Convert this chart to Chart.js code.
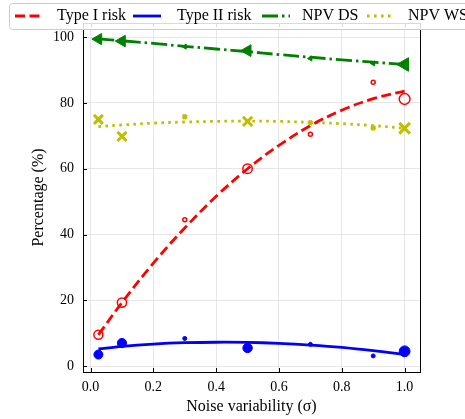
<!DOCTYPE html>
<html><head><meta charset="utf-8">
<script src="https://cdn.jsdelivr.net/npm/chart.js@4/dist/chart.umd.min.js"></script>
<style>html,body{margin:0;padding:0;background:#fff}#wrap{width:465px;height:419px;position:relative}</style>
</head><body><div id="wrap"><canvas id="c"></canvas></div>
<script>
// ---- data ----
const sigma = [0.025, 0.1, 0.3, 0.5, 0.7, 0.9, 1.0];
const typeI = [9.5, 19.3, 44.5, 60.0, 70.5, 86.3, 81.2];
const typeII = [3.5, 7.0, 8.4, 5.5, 6.6, 3.1, 4.5];
const npvDS = [99.4, 98.8, 97.1, 95.9, 93.5, 92.0, 91.7];
const npvWS = [75.0, 69.8, 75.8, 74.4, 74.0, 72.4, 72.3];
const fitX = [0.025, 0.1, 0.2, 0.3, 0.4, 0.5, 0.6, 0.7, 0.8, 0.9, 1.0];
const fitTypeI = [9.5, 19.3, 31.3, 42.0, 51.6, 60.0, 67.1, 73.1, 77.8, 81.3, 83.6];
const fitTypeII = [5.2, 6.0, 6.7, 7.1, 7.25, 7.2, 6.9, 6.4, 5.7, 4.7, 3.5];
const fitDS = [99.5, 98.9, 98.1, 97.2, 96.4, 95.6, 94.7, 93.9, 93.1, 92.4, 91.7];
const fitWS = [72.8, 73.3, 73.85, 74.2, 74.4, 74.5, 74.4, 74.1, 73.7, 73.1, 72.3];
const xTicks = [0, 0.2, 0.4, 0.6, 0.8, 1.0];
const yTicks = [0, 20, 40, 60, 80, 100];
const seriesNames = ['Type I risk', 'Type II risk', 'NPV DS', 'NPV WS'];

// ---- style ----
const RED = '#ff0000', BLUE = '#0000ff', GREEN = '#008000', OLIVE = '#bfbf00';
const markerR = [4.5, 4.6, 2, 4.7, 2, 2, 5.4];
const FONT = "'Liberation Serif', 'DejaVu Serif', serif";
const LW = 2.8;
const dashes = [[10, 4.5], [], [16, 4, 2.5, 4], [2.6, 4.4]];
const colors = [RED, BLUE, GREEN, OLIVE];

const pts = (xs, ys) => xs.map((x, i) => ({x, y: ys[i]}));
function lineDS(label, ys, color, dash) {
  return {type: 'line', label, data: pts(fitX, ys), borderColor: color, borderWidth: LW,
    borderDash: dash, pointRadius: 0, tension: 0.35, fill: false, clip: false, order: 2};
}
function scatDS(label, ys, opts) {
  return Object.assign({type: 'scatter', label, data: pts(sigma, ys), clip: false, order: 1}, opts);
}

const datasets = [
  lineDS(seriesNames[0], fitTypeI, RED, dashes[0]),
  lineDS(seriesNames[1], fitTypeII, BLUE, dashes[1]),
  lineDS(seriesNames[2], fitDS, GREEN, dashes[2]),
  lineDS(seriesNames[3], fitWS, OLIVE, dashes[3]),
  scatDS('typeI pts', typeI, {pointStyle: 'circle', pointRadius: markerR, pointBackgroundColor: 'rgba(255,255,255,0)', pointBorderColor: RED, pointBorderWidth: 1.5}),
  scatDS('typeII pts', typeII, {pointStyle: 'circle', pointRadius: markerR, pointBackgroundColor: BLUE, pointBorderColor: BLUE, pointBorderWidth: 1}),
  scatDS('DS pts', npvDS, {pointStyle: 'triangle', pointRotation: -90, pointRadius: markerR.map(r => r * 1.45), pointBackgroundColor: GREEN, pointBorderColor: GREEN, pointBorderWidth: 1}),
  scatDS('WS pts', npvWS, {pointStyle: 'crossRot', pointRadius: markerR.map(r => r * 1.4), pointBackgroundColor: OLIVE, pointBorderColor: OLIVE, pointBorderWidth: 3})
];

const framePlugin = {
  id: 'frame',
  afterDatasetsDraw(chart) {
    const {ctx, chartArea: a, scales} = chart;
    ctx.save();
    ctx.strokeStyle = '#000';
    ctx.lineWidth = 1;
    ctx.setLineDash([]);
    ctx.strokeRect(Math.round(a.left) + 0.5, Math.round(a.top) + 0.5, Math.round(a.right - a.left), Math.round(a.bottom - a.top));
    ctx.beginPath();
    xTicks.forEach(v => {
      const x = Math.round(scales.x.getPixelForValue(v)) + 0.5;
      ctx.moveTo(x, a.bottom); ctx.lineTo(x, a.bottom - 4);
      ctx.moveTo(x, a.top); ctx.lineTo(x, a.top + 4);
    });
    yTicks.forEach(v => {
      const y = Math.round(scales.y.getPixelForValue(v)) + 0.5;
      ctx.moveTo(a.left, y); ctx.lineTo(a.left + 4, y);
    });
    ctx.stroke();
    ctx.restore();
  }
};

const legendPlugin = {
  id: 'mplLegend',
  afterDraw(chart) {
    const ctx = chart.ctx;
    ctx.save();
    const bx = 9.5, by = 3.5, bw = 480, bh = 26, r = 3;
    ctx.beginPath();
    ctx.moveTo(bx + r, by); ctx.lineTo(bx + bw - r, by); ctx.arcTo(bx + bw, by, bx + bw, by + r, r);
    ctx.lineTo(bx + bw, by + bh - r); ctx.arcTo(bx + bw, by + bh, bx + bw - r, by + bh, r);
    ctx.lineTo(bx + r, by + bh); ctx.arcTo(bx, by + bh, bx, by + bh - r, r);
    ctx.lineTo(bx, by + r); ctx.arcTo(bx, by, bx + r, by, r);
    ctx.closePath();
    ctx.fillStyle = 'rgba(255,255,255,0.85)';
    ctx.fill();
    ctx.strokeStyle = '#cccccc';
    ctx.lineWidth = 1;
    ctx.stroke();
    const sampleX = [15, 133, 262, 367];
    const textX = [57, 177, 302, 408];
    const cy = 16;
    ctx.font = '16px ' + FONT;
    ctx.textBaseline = 'middle';
    ctx.fillStyle = '#000';
    seriesNames.forEach((name, i) => {
      ctx.beginPath();
      ctx.setLineDash(dashes[i]);
      ctx.strokeStyle = colors[i];
      ctx.lineWidth = LW;
      ctx.moveTo(sampleX[i], cy); ctx.lineTo(sampleX[i] + 28, cy);
      ctx.stroke();
      ctx.setLineDash([]);
      ctx.fillText(name, textX[i], cy);
    });
    ctx.restore();
  }
};

Chart.defaults.font.family = FONT;
Chart.defaults.color = '#000';

new Chart(document.getElementById('c'), {
  data: {datasets},
  options: {
    responsive: true,
    maintainAspectRatio: false,
    animation: false,
    layout: {padding: {left: 0, right: 45, top: 23, bottom: 0}},
    plugins: {legend: {display: false}, tooltip: {enabled: false}},
    scales: {
      x: {
        type: 'linear', min: -0.024, max: 1.049,
        afterBuildTicks: s => { s.ticks = xTicks.map(v => ({value: v})); },
        afterFit: s => { s.height = 47; },
        ticks: {font: {size: 14}, padding: 7, callback: v => v.toFixed(1), maxRotation: 0},
        grid: {color: '#e3e3e3', lineWidth: 0.9, drawTicks: false},
        border: {display: false},
        title: {display: true, text: 'Noise variability (σ)', font: {size: 16}, padding: {top: 0, bottom: 3}}
      },
      y: {
        type: 'linear', min: -1.8, max: 104.3,
        afterBuildTicks: s => { s.ticks = yTicks.map(v => ({value: v})); },
        afterFit: s => { s.width = 83; },
        ticks: {font: {size: 14}, padding: 9},
        grid: {color: '#e3e3e3', lineWidth: 0.9, drawTicks: false},
        border: {display: false},
        title: {display: true, text: 'Percentage (%)', font: {size: 16}, padding: {top: 29, bottom: 0}}
      }
    }
  },
  plugins: [framePlugin, legendPlugin]
});
</script>
</body></html>
